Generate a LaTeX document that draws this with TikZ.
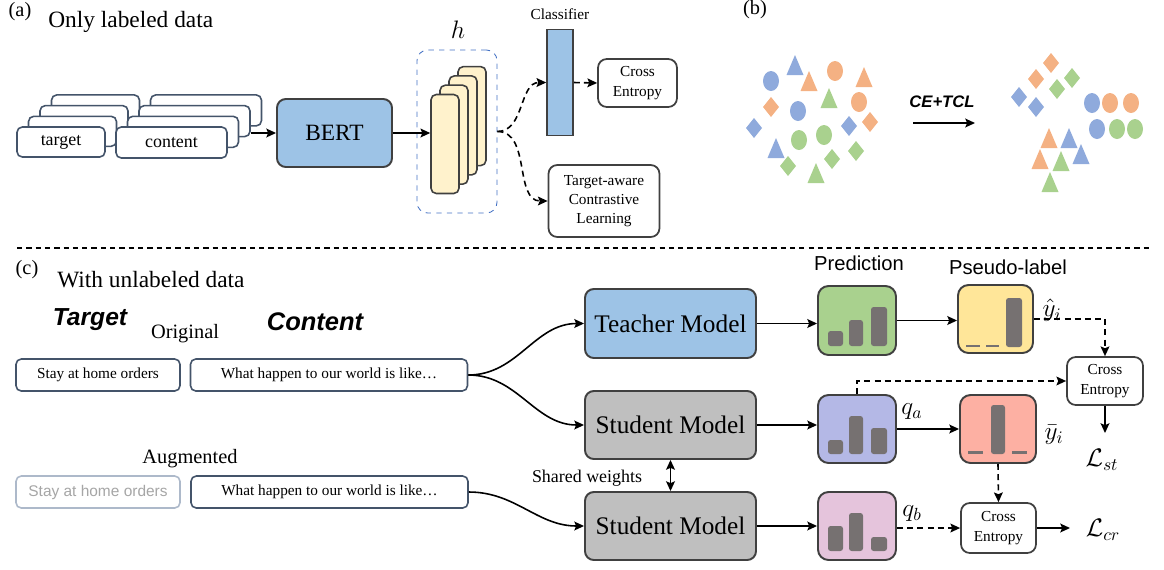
\documentclass[tikz,border=0pt]{standalone}
\usepackage{fontspec}
\setmainfont{Liberation Serif}
\setsansfont{Liberation Sans}
\usetikzlibrary{arrows.meta}
\definecolor{bluebox}{HTML}{9DC3E6}
\definecolor{greybox}{HTML}{BFBFBF}
\definecolor{bordc}{HTML}{404040}
\definecolor{tbc}{HTML}{44546A}
\definecolor{cardc}{HTML}{FFF2CC}
\definecolor{pgreen}{HTML}{A9D18E}
\definecolor{pyellow}{HTML}{FFE699}
\definecolor{ppurple}{HTML}{B4B8E6}
\definecolor{pred}{HTML}{FDB0A3}
\definecolor{ppink}{HTML}{E5C4DC}
\definecolor{barc}{HTML}{767171}
\definecolor{sblue}{HTML}{8FAADC}
\definecolor{sorange}{HTML}{F4B183}
\definecolor{sgreen}{HTML}{A9D18E}
\definecolor{dashblue}{HTML}{4472C4}
\definecolor{lightg}{HTML}{ADB9CA}
\definecolor{lighttxt}{HTML}{A6A6A6}
\newcommand\shC[3]{\fill[#1] (#2,#3) ellipse [x radius=8, y radius=10];}
\newcommand\shT[3]{\fill[#1] (#2,#3) -- ++(8.5,20) -- ++(-17,0) -- cycle;}
\newcommand\shD[3]{\fill[#1] (#2,#3) ++(0,-10) -- ++(8,10) -- ++(-8,10) -- ++(-8,-10) -- cycle;}
\begin{document}
\begin{tikzpicture}[x=0.02cm,y=-0.02cm,
  bx/.style 2 args={rectangle,minimum width=#1*0.02cm,minimum height=#2*0.02cm,inner sep=0pt},
  model/.style={draw=bordc,line width=1.1pt,rounded corners=5pt},
  txtbox/.style={draw=tbc,line width=0.9pt,fill=white,rounded corners=3pt,font=\fontsize{8.7}{10}\selectfont},
  predbox/.style={draw=bordc,line width=1.1pt,rounded corners=6pt},
  cebox/.style={draw=bordc,line width=1pt,rounded corners=5pt,fill=white,align=center,font=\fontsize{8.7}{11}\selectfont},
  conn/.style={line width=0.9pt,-{Stealth[length=5.5pt,width=5pt,inset=1pt]}},
  dconn/.style={conn,dash pattern=on 3.4pt off 2.4pt},
  bar/.style={fill=barc,rounded corners=1.5pt},
  lbl/.style={inner sep=0pt}]
\useasboundingbox (0,0) rectangle (1164,569);

% ---------- (a)
\node[lbl,font=\fontsize{11.6}{13}\selectfont] at (20,12) {(a)};
\node[lbl,anchor=west,font=\fontsize{13.3}{15}\selectfont] at (48,22) {Only labeled data};

\foreach \k in {3,2,1} {
  \node[txtbox,bx={88}{30}] (t\k) at (61+11.5*\k,142-10.7*\k) {};
  \node[txtbox,bx={111}{31}] (c\k) at (171.5+11.5*\k,142.5-10.7*\k) {};
}
\node[txtbox,bx={88}{30},font=\fontsize{10.2}{12}\selectfont] (t0) at (61,142) {target};
\node[txtbox,bx={111}{31},font=\fontsize{10.2}{12}\selectfont] (c0) at (171.5,142.5) {content};

\node[model,fill=bluebox,bx={115}{68},font=\fontsize{13.3}{15}\selectfont] (bert) at (334.5,133) {BERT};
\draw[conn] (c2.east |- bert) -- (bert.west);

\node[draw=dashblue,dashed,line width=0.5pt,rounded corners=6pt,bx={80}{163}] (hbox) at (457,131.5) {};
\node[lbl,font=\fontsize{14}{16}\selectfont] (hlab) at (458,30) {$h$};
\foreach \k in {3,2,1,0} {
  \node[draw=bordc,line width=0.9pt,fill=cardc,rounded corners=3pt,bx={28}{99}] (card\k) at (445+9*\k,144-9.3*\k) {};
}
\draw[conn] (bert.east) -- (card0.west |- bert);

\node[draw=bordc,line width=0.9pt,fill=bluebox,bx={26}{106}] (cls) at (560,82.5) {};
\node[lbl,font=\fontsize{8.7}{10}\selectfont] (clslab) at (560,14) {Classifier};
\node[cebox,bx={79}{48}] (cea) at (637.5,83) {Cross\\Entropy};
\node[cebox,bx={111}{72}] (tcl) at (604,201) {Target-aware\\Contrastive\\Learning};
\draw[dconn] (hbox.east) to[out=0,in=180] (cls.west);
\draw[dconn] (hbox.east) to[out=0,in=180] (tcl.west);
\draw[dconn] (cls.east) -- (cea.west);

% ---------- (b)
\node[lbl,font=\fontsize{11.6}{13}\selectfont] at (755,10) {(b)};
% left cluster
\shC{sblue}{771}{81}
\shC{sorange}{835}{71}
\shC{sorange}{859}{102}
\shC{sblue}{798}{111}
\shC{sgreen}{799}{140}
\shC{sgreen}{824}{135}
\shT{sblue}{795}{55}
\shT{sorange}{809}{71}
\shT{sorange}{864}{67}
\shT{sgreen}{829}{88}
\shT{sblue}{776}{138}
\shT{sgreen}{816}{163}
\shD{sorange}{771}{107}
\shD{sblue}{754}{128}
\shD{sblue}{849}{126}
\shD{sorange}{870}{122}
\shD{sgreen}{788}{166}
\shD{sgreen}{832}{159}
\shD{sgreen}{856}{151}
% arrow
\coordinate (bL) at (913,123);
\coordinate (bR) at (975,123);
\draw[conn] (bL) -- (bR);
\node[lbl,font=\sffamily\bfseries\itshape\fontsize{9.5}{11}\selectfont] (cetcl) at (942,102) {CE+TCL};
% right cluster
\shD{sorange}{1051}{63}
\shD{sorange}{1036}{79}
\shD{sgreen}{1072}{78}
\shD{sgreen}{1057}{89}
\shD{sblue}{1019}{97}
\shD{sblue}{1036}{107}
\shC{sblue}{1092}{103}
\shC{sorange}{1110}{103}
\shC{sorange}{1131}{103}
\shC{sblue}{1097}{129}
\shC{sgreen}{1117}{129}
\shC{sgreen}{1135}{129}
\shT{sorange}{1049}{128}
\shT{sblue}{1069}{128}
\shT{sblue}{1081}{144}
\shT{sorange}{1040}{149}
\shT{sgreen}{1061}{151}
\shT{sgreen}{1050}{172}

% ---------- separator
\coordinate (sepL) at (17,248);
\coordinate (sepR) at (1153,248);
\draw[line width=0.85pt,dash pattern=on 3pt off 2.3pt] (sepL) -- (sepR);

% ---------- (c)
\node[lbl,font=\fontsize{11.6}{13}\selectfont] at (27,270) {(c)};
\node[lbl,anchor=west,font=\fontsize{13.3}{15}\selectfont] at (57,280) {With unlabeled data};
\node[lbl,font=\sffamily\bfseries\itshape\fontsize{14}{16}\selectfont] at (90,320) {Target};
\node[lbl,font=\fontsize{11.6}{13}\selectfont] at (185,334) {Original};
\node[lbl,font=\sffamily\bfseries\itshape\fontsize{14.5}{16}\selectfont] at (315,322) {Content};

\node[txtbox,bx={164}{32}] (tgt) at (98,375) {Stay at home orders};
\node[txtbox,bx={277}{32}] (cont) at (329,375) {What happen to our world is like\ldots};
\node[lbl,font=\fontsize{11.6}{13}\selectfont] at (190,459) {Augmented};
\node[txtbox,draw=lightg,bx={164}{32},font=\sffamily\fontsize{8.8}{10}\selectfont,text=lighttxt] (atgt) at (98,492) {Stay at home orders};
\node[txtbox,bx={277}{32}] (acont) at (329.5,492) {What happen to our world is like\ldots};

\node[model,fill=bluebox,bx={171}{69},font=\fontsize{14.4}{16}\selectfont] (teacher) at (670.5,323.5) {Teacher Model};
\node[model,fill=greybox,bx={171}{68},font=\fontsize{14.4}{16}\selectfont] (stu1) at (670.5,425) {Student Model};
\node[model,fill=greybox,bx={171}{68},font=\fontsize{14.4}{16}\selectfont] (stu2) at (670.5,526) {Student Model};

\draw[conn] (cont.east) to[out=0,in=180] (teacher.west);
\draw[conn] (cont.east) to[out=0,in=180] (stu1.west);
\draw[conn] (acont.east) to[out=0,in=180] (stu2.west);
\draw[line width=0.9pt,{Stealth[length=5.5pt,width=5pt,inset=1pt]}-{Stealth[length=5.5pt,width=5pt,inset=1pt]}] (stu1.south) -- (stu2.north);
\node[lbl,font=\fontsize{10.2}{12}\selectfont] at (587,478) {Shared weights};

% prediction boxes
\node[lbl,font=\sffamily\fontsize{11.5}{13}\selectfont] at (859,263) {Prediction};
\node[lbl,font=\sffamily\fontsize{11.5}{13}\selectfont] at (1008,267) {Pseudo-label};
\node[predbox,fill=pgreen,bx={78}{69}] (green) at (857,320.5) {};
\node[predbox,fill=pyellow,bx={75}{68}] (yellow) at (995.5,319) {};
\node[predbox,fill=ppurple,bx={78}{68}] (purple) at (857,429) {};
\node[predbox,fill=pred,bx={76}{68}] (red) at (998,429) {};
\node[predbox,fill=ppink,bx={78}{68}] (pink) at (857,526) {};
% bars
\fill[bar] (828,331) rectangle (843,346);
\fill[bar] (849,320) rectangle (863,346);
\fill[bar] (871,307) rectangle (887,346);
\fill[bar] (828,440) rectangle (843,454);
\fill[bar] (849,416) rectangle (863,454);
\fill[bar] (871,428) rectangle (887,454);
\fill[bar] (828,526) rectangle (843,551);
\fill[bar] (849,513) rectangle (863,551);
\fill[bar] (871,537) rectangle (887,551);
\fill[barc] (966,344.5) rectangle (980,347);
\fill[barc] (986,344.5) rectangle (999,347);
\fill[bar] (1006,298) rectangle (1022,347);
\fill[barc] (968,451) rectangle (983,453.5);
\fill[barc] (1012,451) rectangle (1027,453.5);
\fill[bar] (991,405) rectangle (1005,454);

\node[cebox,bx={76}{48}] (ce1) at (1105,381) {Cross\\Entropy};
\node[cebox,bx={75}{50}] (ce2) at (998.5,528) {Cross\\Entropy};

\draw[conn] (teacher.east) -- (green.west |- teacher);
\draw[conn] (green.east) -- (yellow.west |- green);
\draw[conn] (stu1.east) -- (purple.west |- stu1);
\draw[conn] (stu2.east) -- (pink.west |- stu2);
\draw[conn] (purple.east) -- (red.west);
\draw[dconn] (yellow.east) -| (ce1.north);
\draw[dconn] (purple.north) |- (ce1.west);
\draw[dconn] (red.south) -- (ce2.north);
\draw[dconn] (pink.east |- ce2) -- (ce2.west);

\coordinate (stend) at (1105,433);
\coordinate (crend) at (1070,528);
\draw[conn] (ce1.south) -- (stend);
\draw[conn] (ce2.east) -- (crend);

\node[lbl,font=\fontsize{14}{16}\selectfont] at (1052,310) {$\hat{y}_i$};
\node[lbl,font=\fontsize{14}{16}\selectfont] at (912,412) {$q_a$};
\node[lbl,font=\fontsize{14}{16}\selectfont] at (1054,435) {$\bar{y}_i$};
\node[lbl,font=\fontsize{14}{16}\selectfont] at (912,514) {$q_b$};
\node[lbl,font=\fontsize{14}{16}\selectfont] at (1102,460) {$\mathcal{L}_{st}$};
\node[lbl,font=\fontsize{14}{16}\selectfont] at (1103,530) {$\mathcal{L}_{cr}$};
\end{tikzpicture}
\end{document}
